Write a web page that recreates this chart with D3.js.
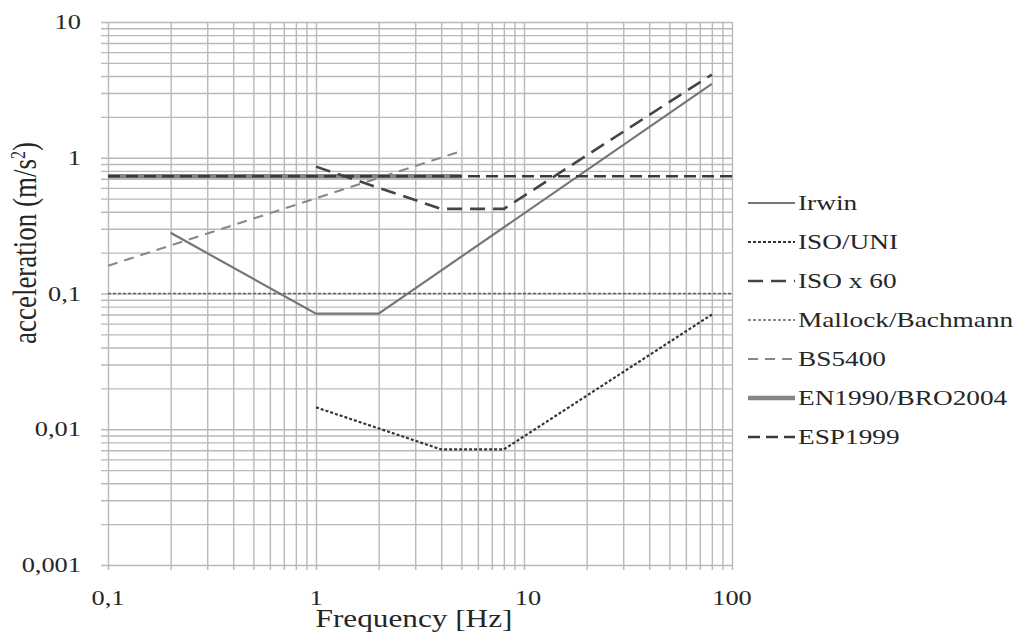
<!DOCTYPE html>
<html>
<head>
  <meta charset="utf-8">
  <title>Acceleration limits vs frequency</title>
  <script src="https://cdn.jsdelivr.net/npm/d3@7/dist/d3.min.js"></script>
  <style>
    body { margin: 0; background: #fff; }
    svg { display: block; font-family: "Liberation Serif", "Times New Roman", serif; }
    .grid line { stroke: #b9b9b9; stroke-width: 1.4; }
    .grid path { display: none; }
    .lbl { fill: #262626; }
  </style>
</head>
<body>
<div id="chart"></div>
<script>
// --- data ---
var xTicks = [0.1, 1, 10, 100];
var xTickLabels = ["0,1", "1", "10", "100"];
var yTicks = [0.001, 0.01, 0.1, 1, 10];
var yTickLabels = ["0,001", "0,01", "0,1", "1", "10"];

var irwinF = [0.2, 1, 2, 80];
var irwinA = [0.28, 0.071, 0.071, 3.5];
var isoUniF = [1, 4, 8, 80];
var isoUniA = [0.0145, 0.0071, 0.0071, 0.07];
var iso60F = [1, 4, 8, 80];
var iso60A = [0.86, 0.42, 0.42, 4.1];
var mallockF = [0.1, 100];
var mallockA = [0.1, 0.1];
var bsF = [0.1, 5];
var bsA = [0.16, 1.12];
var enF = [0.1, 5];
var enA = [0.73, 0.73];
var espF = [0.1, 100];
var espA = [0.73, 0.73];

var seriesNames = ["Irwin", "ISO/UNI", "ISO x 60", "Mallock/Bachmann", "BS5400", "EN1990/BRO2004", "ESP1999"];

var svg = d3.select("#chart").append("svg")
  .attr("width", 1026)
  .attr("height", 638);

var x = d3.scaleLog().domain([0.1, 100]).range([108, 732]);
var y = d3.scaleLog().domain([0.001, 10]).range([565, 22]);

// grid (all 1..9 multiples), lines poke out a little past the frame
svg.append("g")
  .attr("class", "grid")
  .attr("transform", "translate(0,565)")
  .call(d3.axisBottom(x).tickSize(-543).tickSizeOuter(0).tickFormat(""))
  .selectAll(".tick line").attr("y1", 5);

svg.append("g")
  .attr("class", "grid")
  .attr("transform", "translate(108,0)")
  .call(d3.axisLeft(y).tickSize(-624).tickSizeOuter(0).tickFormat(""))
  .selectAll(".tick line").attr("x1", -7);

// tick labels
svg.append("g").selectAll("text")
  .data(xTicks)
  .enter().append("text")
  .attr("class", "lbl")
  .attr("transform", function(d) { return "translate(" + (x(d) + (d === 10 ? 4 : 0)) + ",605) scale(1.2,1)"; })
  .attr("text-anchor", "middle")
  .style("font-size", "22px")
  .text(function(d, i) { return xTickLabels[i]; });

svg.append("g").selectAll("text")
  .data(yTicks)
  .enter().append("text")
  .attr("class", "lbl")
  .attr("transform", function(d) { return "translate(81," + (y(d) + 7) + ") scale(1.2,1)"; })
  .attr("text-anchor", "end")
  .style("font-size", "22px")
  .text(function(d, i) { return yTickLabels[i]; });

// axis titles
svg.append("text")
  .attr("class", "lbl")
  .attr("transform", "translate(414,627) scale(1.25,1)")
  .attr("text-anchor", "middle")
  .style("font-size", "25px")
  .text("Frequency [Hz]");

var yTitle = svg.append("text")
  .attr("class", "lbl")
  .attr("transform", "translate(36,243) scale(1.25,1) rotate(-90)")
  .attr("text-anchor", "middle")
  .style("font-size", "27px");
yTitle.append("tspan").text("acceleration (m/s");
yTitle.append("tspan").attr("dy", -9).style("font-size", "16px").text("2");
yTitle.append("tspan").attr("dy", 9).text(")");

// series
var line = d3.line()
  .x(function(d) { return x(d[0]); })
  .y(function(d) { return y(d[1]); });

var series = [
  { name: "EN1990/BRO2004", f: enF, a: enA, stroke: "#858585", width: 4.5, dash: null },
  { name: "Irwin", f: irwinF, a: irwinA, stroke: "#767676", width: 2.2, dash: null },
  { name: "ISO/UNI", f: isoUniF, a: isoUniA, stroke: "#353535", width: 2.2, dash: "3,2" },
  { name: "ISO x 60", f: iso60F, a: iso60A, stroke: "#454545", width: 2.6, dash: "15,8" },
  { name: "Mallock/Bachmann", f: mallockF, a: mallockA, stroke: "#666", width: 1.6, dash: "3,2" },
  { name: "BS5400", f: bsF, a: bsA, stroke: "#888", width: 2, dash: "10,7" },
  { name: "ESP1999", f: espF, a: espA, stroke: "#3a3a3a", width: 2.6, dash: "12,6" }
];

svg.append("g").selectAll("path")
  .data(series)
  .enter().append("path")
  .attr("d", function(s) { return line(d3.zip(s.f, s.a)); })
  .attr("fill", "none")
  .attr("stroke", function(s) { return s.stroke; })
  .attr("stroke-width", function(s) { return s.width; })
  .attr("stroke-dasharray", function(s) { return s.dash; });

// legend
var legend = svg.append("g");
seriesNames.forEach(function(name, i) {
  var s = series.filter(function(d) { return d.name === name; })[0];
  var ly = 203 + i * 39;
  legend.append("line")
    .attr("x1", 748).attr("x2", 795)
    .attr("y1", ly).attr("y2", ly)
    .attr("stroke", s.stroke)
    .attr("stroke-width", s.width)
    .attr("stroke-dasharray", s.dash);
  legend.append("text")
    .attr("class", "lbl")
    .attr("transform", "translate(798," + (ly + 7) + ") scale(1.3,1)")
    .style("font-size", "21px")
    .text(name);
});
</script>
</body>
</html>
